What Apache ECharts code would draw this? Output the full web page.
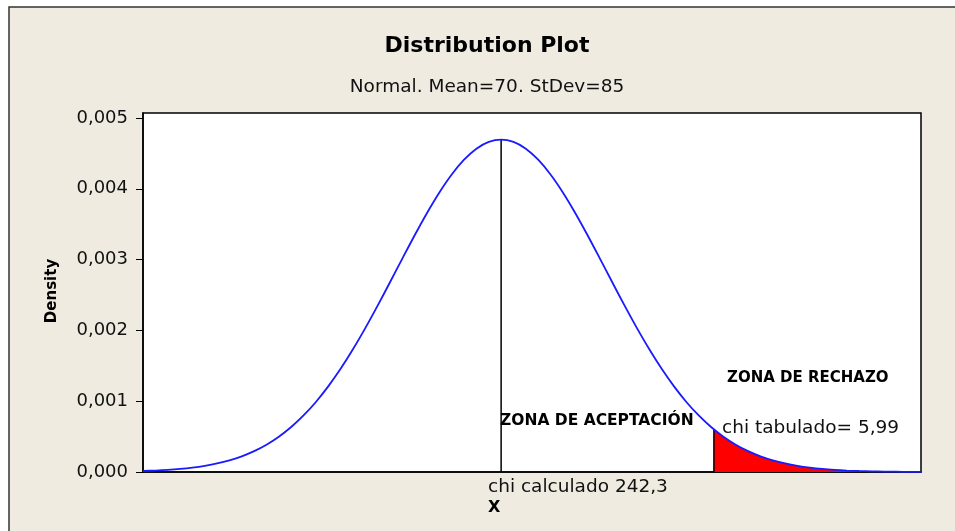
<!DOCTYPE html>
<html>
<head>
<meta charset="utf-8">
<title>Distribution Plot</title>
<script src="https://cdn.jsdelivr.net/npm/echarts@6/dist/echarts.min.js"></script>
<style>
  html, body { margin: 0; padding: 0; background: #fff; }
  #chart { width: 955px; height: 531px; }
</style>
</head>
<body>
<div id="chart"></div>
<script>
  // curva normal, media 70, desv. 85
  const xValues = [
    -220, -210, -200, -190, -180, -170, -160, -150, -140, -130,
    -120, -110, -100, -90, -80, -70, -60, -50, -40, -30,
    -20, -10, 0, 10, 20, 30, 40, 50, 60, 70,
    80, 90, 100, 110, 120, 130, 140, 150, 160, 170,
    180, 190, 200, 210, 220, 230, 240, 250, 260, 270,
    280, 290, 300, 310, 320, 330, 340, 350, 360, 370,
    380, 390, 400, 410
  ];
  const density = [
    0.0000139, 0.0000207, 0.0000302, 0.0000436, 0.0000621, 0.0000872, 0.0001207, 0.0001648, 0.0002219, 0.0002946,
    0.0003859, 0.0004986, 0.0006352, 0.0007982, 0.0009891, 0.0012090, 0.0014573, 0.0017326, 0.0020315, 0.0023493,
    0.0026795, 0.0030139, 0.0033437, 0.0036584, 0.0039478, 0.0042015, 0.0044100, 0.0045653, 0.0046610, 0.0046934,
    0.0046610, 0.0045653, 0.0044100, 0.0042015, 0.0039478, 0.0036584, 0.0033437, 0.0030139, 0.0026795, 0.0023493,
    0.0020315, 0.0017326, 0.0014573, 0.0012090, 0.0009891, 0.0007982, 0.0006352, 0.0004986, 0.0003859, 0.0002946,
    0.0002219, 0.0001648, 0.0001207, 0.0000872, 0.0000621, 0.0000436, 0.0000302, 0.0000207, 0.0000139, 0.0000093,
    0.0000061, 0.0000039, 0.0000025, 0.0000016
  ];
  const yTicks = [0, 0.001, 0.002, 0.003, 0.004, 0.005];
  const meanLine = [70, 0.0046934];      // chi calculado
  const rejectStart = [242.3, 0.0006015]; // inicio zona de rechazo

  const font = 'DejaVu Sans';
  const curve = xValues.map((x, i) => [x, density[i]]);
  const rejectArea = [rejectStart].concat(curve.filter(p => p[0] > rejectStart[0]));

  const chart = echarts.init(document.getElementById('chart'));

  const option = {
    animation: false,
    backgroundColor: '#fff',
    textStyle: { fontFamily: font },
    grid: {
      left: 143, top: 113, right: 34, bottom: 59,
      show: true,
      backgroundColor: '#fff',
      borderColor: '#000',
      borderWidth: 1.5
    },
    xAxis: {
      type: 'value',
      min: -220,
      max: 410,
      axisLine: { show: true, onZero: false, lineStyle: { color: '#000', width: 1.5 } },
      axisTick: { show: false },
      axisLabel: { show: false },
      splitLine: { show: false }
    },
    yAxis: {
      type: 'value',
      min: 0,
      max: 0.00507,
      interval: 0.001,
      axisLine: { show: true, onZero: false, lineStyle: { color: '#000', width: 1.5 } },
      axisTick: { show: true, length: 7, customValues: yTicks, lineStyle: { color: '#000', width: 1 } },
      axisLabel: {
        customValues: yTicks,
        margin: 15,
        color: '#111',
        fontSize: 18,
        fontFamily: font,
        formatter: v => v.toFixed(3).replace('.', ',')
      },
      splitLine: { show: false }
    },
    graphic: [
      {
        type: 'rect', z: -100, silent: true,
        shape: { x: 9, y: 7, width: 1000, height: 600 },
        style: { fill: '#efebe1', stroke: '#333', lineWidth: 1.5 }
      },
      {
        type: 'text', x: 487, y: 46,
        style: { text: 'Distribution Plot', font: 'bold 22px "DejaVu Sans"', fill: '#000', align: 'center', verticalAlign: 'middle' }
      },
      {
        type: 'text', x: 487, y: 87,
        style: { text: 'Normal. Mean=70. StDev=85', font: '18.5px "DejaVu Sans"', fill: '#111', align: 'center', verticalAlign: 'middle' }
      },
      {
        type: 'text', x: 52, y: 291, rotation: Math.PI / 2,
        style: { text: 'Density', font: 'bold 15px "DejaVu Sans"', fill: '#000', align: 'center', verticalAlign: 'middle' }
      },
      {
        type: 'text', x: 500, y: 421, z: 10,
        style: { text: 'ZONA DE ACEPTACIÓN', font: 'bold 15.5px "DejaVu Sans"', fill: '#000', align: 'left', verticalAlign: 'middle' }
      },
      {
        type: 'text', x: 727, y: 378, z: 10,
        style: { text: 'ZONA DE RECHAZO', font: 'bold 15px "DejaVu Sans"', fill: '#000', align: 'left', verticalAlign: 'middle' }
      },
      {
        type: 'text', x: 722, y: 428, z: 10,
        style: { text: 'chi tabulado= 5,99', font: '18.5px "DejaVu Sans"', fill: '#111', align: 'left', verticalAlign: 'middle' }
      },
      {
        type: 'text', x: 488, y: 487, z: 10,
        style: { text: 'chi calculado 242,3', font: '18.5px "DejaVu Sans"', fill: '#111', align: 'left', verticalAlign: 'middle' }
      },
      {
        type: 'text', x: 488, y: 508, z: 10,
        style: { text: 'X', font: 'bold 16px "DejaVu Sans"', fill: '#000', align: 'left', verticalAlign: 'middle' }
      }
    ],
    series: [
      {
        name: 'rechazo',
        type: 'line',
        data: rejectArea,
        symbol: 'none',
        smooth: 0.3,
        lineStyle: { width: 0 },
        areaStyle: { color: '#ff0000', opacity: 1 },
        z: 2
      },
      {
        name: 'limite',
        type: 'line',
        data: [[rejectStart[0], 0], rejectStart],
        symbol: 'none',
        lineStyle: { color: '#000', width: 1.5 },
        z: 3
      },
      {
        name: 'media',
        type: 'line',
        data: [[meanLine[0], 0], meanLine],
        symbol: 'none',
        lineStyle: { color: '#000', width: 1.5 },
        z: 3
      },
      {
        name: 'densidad',
        type: 'line',
        data: curve,
        symbol: 'none',
        smooth: 0.3,
        lineStyle: { color: '#1a1aff', width: 1.8 },
        z: 4
      }
    ]
  };

  chart.setOption(option);
</script>
</body>
</html>
